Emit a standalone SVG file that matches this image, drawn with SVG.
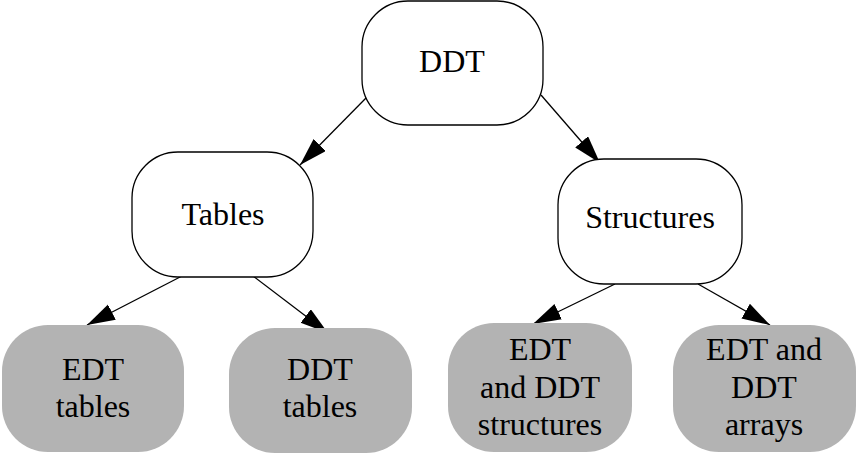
<svg xmlns="http://www.w3.org/2000/svg" width="856" height="456" viewBox="0 0 856 456">
<style>
.n rect{fill:#ffffff;stroke:#000000;stroke-width:1.3}
.g rect{fill:#b3b3b3;stroke:none}
text{font-family:"Liberation Serif","Times New Roman",serif;font-size:32px;fill:#000000;text-anchor:middle}
.e line{stroke:#000000;stroke-width:1.3;marker-end:url(#ah)}
</style>
<defs>
<marker id="ah" markerUnits="userSpaceOnUse" markerWidth="30" markerHeight="20" refX="28" refY="8.5" orient="auto">
<path d="M0,0 L28,8.5 L0,17 z" fill="#000000"/>
</marker>
</defs>
<rect width="856" height="456" fill="#ffffff"/>
<g id="edges" class="e">
<line x1="367" y1="97" x2="300" y2="165"/>
<line x1="541" y1="95" x2="600" y2="163"/>
<line x1="182" y1="276" x2="87" y2="325"/>
<line x1="253" y1="276" x2="328" y2="333"/>
<line x1="615" y1="284" x2="533" y2="324"/>
<line x1="698" y1="284" x2="770" y2="325"/>
</g>
<g id="ddt" class="n">
<rect x="362" y="1" width="181" height="124" rx="46" ry="46"/>
<text x="452" y="72">DDT</text>
</g>
<g id="tables" class="n">
<rect x="132" y="152" width="181" height="125" rx="46" ry="46"/>
<text x="223" y="225">Tables</text>
</g>
<g id="structures" class="n">
<rect x="558" y="159" width="184" height="125" rx="46" ry="46"/>
<text x="650" y="228">Structures</text>
</g>
<g id="edt-tables" class="g">
<rect x="2" y="325" width="182" height="127" rx="46" ry="46"/>
<text x="93" y="380">EDT</text>
<text x="93" y="417">tables</text>
</g>
<g id="ddt-tables" class="g">
<rect x="229" y="328" width="183" height="125" rx="46" ry="46"/>
<text x="320" y="380">DDT</text>
<text x="320" y="417">tables</text>
</g>
<g id="edt-ddt-structures" class="g">
<rect x="448" y="323" width="184" height="129" rx="46" ry="46"/>
<text x="540" y="360">EDT</text>
<text x="540" y="398">and DDT</text>
<text x="540" y="435">structures</text>
</g>
<g id="edt-ddt-arrays" class="g">
<rect x="673" y="325" width="183" height="127" rx="46" ry="46"/>
<text x="764" y="360">EDT and</text>
<text x="764" y="398">DDT</text>
<text x="764" y="435">arrays</text>
</g>
</svg>
